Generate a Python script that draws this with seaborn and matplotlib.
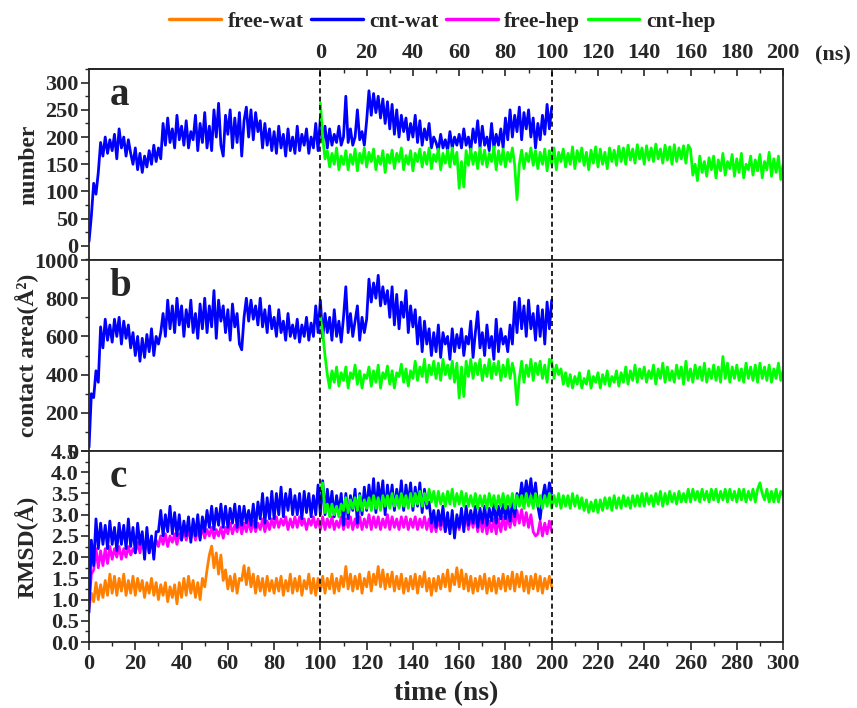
import numpy as np
import matplotlib
matplotlib.use("Agg")
import matplotlib.pyplot as plt
from matplotlib.ticker import MultipleLocator, FixedLocator
from matplotlib.lines import Line2D
import seaborn as sns

# ---- sampling times (ns) ----
t_free = np.arange(0, 201)     # free / cnt-wat runs, 0-200 ns
t_hep = np.arange(100, 301)    # cnt-hep run, started at 100 ns

# ---- (a) number of contacts ----
number_cnt_wat = [
    8, 55, 115, 95, 135, 190, 165, 200, 170, 195,
    175, 205, 160, 215, 180, 200, 165, 195, 170, 150,
    180, 140, 170, 135, 165, 145, 175, 150, 185, 155,
    180, 160, 225, 185, 235, 190, 215, 180, 240, 195,
    220, 185, 230, 180, 210, 195, 240, 175, 225, 190,
    245, 180, 220, 175, 250, 200, 262, 185, 165, 240,
    205, 250, 180, 235, 190, 245, 165, 230, 255, 200,
    250, 195, 245, 210, 230, 180, 225, 185, 215, 175,
    210, 170, 220, 180, 205, 165, 215, 175, 200, 170,
    220, 175, 205, 185, 215, 170, 200, 180, 225, 175,
    235, 190, 220, 180, 215, 185, 205, 190, 220, 185,
    200, 275, 190, 215, 185, 200, 250, 195, 210, 185,
    230, 285, 240, 280, 245, 275, 235, 270, 225, 265,
    215, 260, 205, 250, 200, 240, 210, 235, 195, 225,
    200, 240, 190, 230, 185, 215, 195, 225, 180, 200,
    190, 175, 205, 180, 195, 175, 210, 180, 200, 185,
    205, 180, 215, 185, 200, 175, 215, 190, 230, 180,
    220, 185, 200, 175, 225, 180, 205, 185, 215, 180,
    235, 195, 250, 200, 240, 210, 255, 195, 245, 215,
    250, 200, 235, 180, 225, 195, 240, 205, 260, 215,
    255,
]
number_cnt_hep = [
    262, 200, 160, 175, 145, 170, 150, 180, 140, 165,
    150, 175, 140, 168, 150, 178, 138, 170, 152, 180,
    145, 172, 155, 178, 140, 165, 150, 175, 135, 168,
    152, 176, 142, 170, 155, 180, 140, 166, 150, 175,
    138, 170, 155, 178, 145, 172, 150, 180, 142, 168,
    155, 178, 140, 170, 152, 176, 145, 180, 150, 172,
    106, 155, 108, 175, 148, 178, 150, 172, 142, 180,
    150, 176, 145, 170, 155, 182, 140, 175, 150, 178,
    145, 172, 155, 180, 148, 85, 150, 176, 142, 170,
    155, 180, 148, 175, 142, 172, 150, 178, 138, 175,
    150, 180, 140, 172, 155, 178, 145, 170, 150, 182,
    142, 175, 155, 180, 148, 172, 140, 176, 152, 182,
    145, 178, 150, 172, 142, 180, 155, 176, 148, 183,
    155, 180, 150, 185, 158, 178, 152, 186, 160, 180,
    150, 184, 158, 180, 155, 187, 160, 178, 152, 185,
    158, 182, 150, 186, 155, 180, 160, 184, 152, 185,
    178, 130, 150, 120, 165, 135, 155, 128, 162, 140,
    165, 125, 158, 138, 170, 130, 155, 142, 168, 128,
    160, 135, 170, 125, 150, 140, 165, 130, 158, 138,
    168, 125, 155, 140, 172, 128, 160, 135, 165, 122,
    150,
]

# ---- (b) contact area (A^2) ----
area_cnt_wat = [
    20, 300, 280, 420, 360, 650, 540, 690, 580, 660,
    570, 690, 600, 700, 560, 680, 590, 660, 540, 620,
    500, 600, 470, 590, 490, 610, 520, 640, 500, 600,
    560, 620, 720, 600, 790, 640, 760, 620, 800, 660,
    760, 600, 740, 650, 790, 620, 720, 590, 770, 640,
    800, 620, 760, 650, 840, 590, 790, 680, 760, 620,
    740, 580, 770, 650, 720, 560, 530, 700, 800, 680,
    790, 690, 760, 660, 800, 650, 740, 620, 760, 640,
    700, 600, 740, 620, 680, 580, 720, 600, 660, 590,
    690, 570, 660, 600, 700, 580, 670, 600, 760, 620,
    790, 590, 720, 620, 700, 580, 740, 600, 680, 570,
    700, 860, 620, 720, 600, 680, 760, 580, 700, 620,
    690, 900, 780, 880, 800, 920, 760, 860, 770, 840,
    700, 860, 660, 820, 640, 780, 700, 840, 620, 760,
    650, 740, 560, 700, 520, 680, 560, 640, 500, 620,
    520, 660, 490, 620, 560, 600, 480, 640, 520, 610,
    540, 640, 500, 600, 560, 680, 490, 620, 730, 540,
    620, 500, 660, 540, 600, 480, 690, 520, 640, 560,
    600, 520, 660, 560, 780, 620, 800, 640, 760, 600,
    790, 640, 720, 580, 760, 600, 740, 560, 780, 640,
    790,
]
area_cnt_hep = [
    700, 620, 500, 400, 330, 420, 360, 440, 340, 410,
    370, 440, 330, 410, 380, 450, 350, 420, 330, 400,
    380, 440, 340, 420, 360, 450, 330, 410, 380, 445,
    350, 420, 330, 410, 390, 455, 360, 430, 340, 420,
    380, 470, 370, 440, 390, 480, 360, 450, 400, 470,
    380, 460, 370, 480, 400, 450, 380, 470, 360, 460,
    278, 440, 285, 470, 390, 480, 380, 460, 400, 480,
    370, 450, 390, 480, 380, 460, 400, 470, 370, 450,
    390, 480, 380, 460, 400, 243, 380, 470, 360, 450,
    390, 480, 370, 460, 400, 470, 380, 450, 360, 480,
    470, 380, 450, 400, 430, 350, 410, 340, 400, 330,
    390, 350, 410, 330, 380, 350, 420, 330, 390, 360,
    410, 330, 400, 350, 420, 340, 390, 360, 420, 340,
    410, 360, 440, 350, 420, 370, 450, 360, 430, 380,
    440, 360, 420, 380, 450, 350, 430, 380, 460, 360,
    440, 370, 420, 360, 450, 380, 440, 350, 470, 370,
    430, 360, 450, 380, 440, 370, 460, 360, 430, 380,
    450, 370, 440, 360, 495, 380, 460, 360, 440, 380,
    450, 370, 430, 360, 460, 380, 440, 370, 450, 360,
    460, 380, 440, 370, 450, 360, 430, 380, 460, 370,
    420,
]

# ---- (c) RMSD (A) ----
rmsd_free_wat = [
    0.8, 1.15, 0.95, 1.4, 1.0, 1.35, 1.05, 1.45, 1.1, 1.6,
    1.15, 1.55, 1.1, 1.5, 1.2, 1.6, 1.1, 1.45, 1.15, 1.55,
    1.1, 1.5, 1.2, 1.45, 1.05, 1.4, 1.15, 1.5, 1.1, 1.4,
    1.0, 1.35, 1.1, 1.4, 0.95, 1.3, 1.05, 1.35, 0.9, 1.4,
    1.05, 1.5, 1.1, 1.55, 1.15, 1.45, 1.05, 1.4, 1.0, 1.5,
    1.3, 1.7, 2.05, 2.26, 1.75, 2.1, 1.6, 2.05, 1.45, 1.7,
    1.25, 1.55, 1.2, 1.6, 1.15, 1.5, 1.45, 1.8, 1.35, 1.75,
    1.3, 1.6, 1.15, 1.55, 1.2, 1.5, 1.1, 1.55, 1.2, 1.45,
    1.15, 1.5, 1.2, 1.55, 1.1, 1.45, 1.2, 1.6, 1.15, 1.5,
    1.2, 1.55, 1.1, 1.45, 1.25, 1.6, 1.15, 1.5, 1.1, 1.5,
    1.2, 1.55, 1.15, 1.5, 1.25, 1.6, 1.15, 1.5, 1.2, 1.55,
    1.3, 1.78, 1.25, 1.6, 1.2, 1.55, 1.25, 1.6, 1.15, 1.5,
    1.3, 1.65, 1.2, 1.6, 1.35, 1.78, 1.3, 1.7, 1.25, 1.6,
    1.3, 1.65, 1.2, 1.55, 1.25, 1.6, 1.15, 1.5, 1.2, 1.55,
    1.25, 1.6, 1.15, 1.55, 1.3, 1.65, 1.2, 1.5, 1.1, 1.5,
    1.2, 1.55, 1.25, 1.6, 1.3, 1.7, 1.2, 1.6, 1.35, 1.75,
    1.3, 1.7, 1.25, 1.6, 1.2, 1.55, 1.15, 1.5, 1.2, 1.55,
    1.25, 1.6, 1.15, 1.5, 1.2, 1.55, 1.15, 1.5, 1.25, 1.6,
    1.2, 1.55, 1.25, 1.65, 1.2, 1.6, 1.3, 1.65, 1.2, 1.55,
    1.15, 1.55, 1.25, 1.6, 1.2, 1.55, 1.15, 1.5, 1.25, 1.55,
    1.3,
]
rmsd_cnt_wat = [
    0.7, 2.4, 1.8, 2.9, 2.2, 2.8, 2.3, 2.75, 2.2, 2.85,
    2.3, 2.7, 2.15, 2.8, 2.3, 2.75, 2.2, 2.9, 2.25, 2.7,
    2.1, 2.8, 2.3, 2.6, 1.95, 2.7, 2.1, 2.5, 1.95, 2.6,
    2.6, 3.1, 2.5, 3.0, 2.6, 3.2, 2.55, 3.05, 2.5, 3.0,
    2.4, 2.85, 2.5, 2.95, 2.35, 2.9, 2.5, 3.0, 2.4, 2.95,
    2.6, 3.1, 2.7, 3.2, 2.65, 3.15, 2.75, 3.25, 2.7, 3.2,
    2.7, 3.15, 2.8, 3.25, 2.7, 3.2, 2.75, 3.2, 2.8, 3.1,
    2.75, 3.25, 2.7, 3.3, 2.9, 3.5, 2.8, 3.4, 2.9, 3.55,
    2.9, 3.5, 3.0, 3.65, 2.95, 3.5, 3.1, 3.6, 3.0, 3.45,
    3.0, 3.5, 2.9, 3.55, 3.05, 3.5, 2.95, 3.45, 3.0, 3.7,
    3.0, 3.8, 3.0, 3.6, 3.1, 3.55, 2.95, 3.45, 3.05, 3.5,
    2.75, 3.5, 2.9, 3.45, 3.1, 3.6, 2.8, 3.5, 3.0, 3.65,
    3.1, 3.7, 3.2, 3.85, 3.05, 3.75, 3.3, 3.8, 3.0, 3.7,
    3.2, 3.7, 3.1, 3.6, 3.2, 3.8, 3.1, 3.7, 3.25, 3.75,
    3.1, 3.65, 3.2, 3.75, 3.05, 3.6, 3.15, 3.3, 2.8, 3.1,
    2.7, 3.1, 2.75, 3.2, 2.6, 3.05, 2.55, 3.1, 2.45, 3.0,
    2.7, 3.15, 2.6, 3.2, 2.75, 3.1, 2.8, 3.2, 2.7, 3.15,
    2.8, 3.2, 2.75, 3.15, 2.85, 3.25, 2.8, 3.2, 2.9, 3.25,
    2.9, 3.2, 2.85, 3.3, 2.95, 3.5, 3.3, 3.75, 3.35, 3.8,
    3.4, 3.85, 3.3, 3.75, 3.2, 2.9, 3.4, 3.7, 3.3, 3.75,
    3.5,
]
rmsd_free_hep = [
    0.9, 1.6, 1.7, 2.2, 1.75, 2.15, 1.8, 2.2, 1.85, 2.25,
    1.95, 2.2, 2.0, 2.25, 1.95, 2.2, 2.0, 2.25, 2.05, 2.2,
    2.1, 2.35, 2.1, 2.4, 2.15, 2.35, 2.1, 2.4, 2.2, 2.4,
    2.25, 2.5, 2.3, 2.55, 2.25, 2.5, 2.35, 2.55, 2.3, 2.55,
    2.4, 2.65, 2.4, 2.6, 2.45, 2.7, 2.4, 2.65, 2.45, 2.7,
    2.45, 2.65, 2.5, 2.7, 2.45, 2.65, 2.5, 2.7, 2.45, 2.7,
    2.55, 2.8, 2.55, 2.75, 2.6, 2.85, 2.55, 2.8, 2.6, 2.85,
    2.6, 2.85, 2.6, 2.8, 2.65, 2.9, 2.6, 2.85, 2.65, 2.9,
    2.7, 2.95, 2.7, 2.9, 2.75, 2.95, 2.65, 2.9, 2.7, 2.95,
    2.7, 2.95, 2.75, 2.9, 2.65, 2.9, 2.75, 2.95, 2.7, 2.9,
    2.65, 2.95, 2.65, 2.9, 2.7, 2.95, 2.65, 2.85, 2.7, 2.95,
    2.65, 2.9, 2.7, 2.95, 2.65, 2.9, 2.7, 2.95, 2.65, 2.9,
    2.7, 3.0, 2.65, 2.95, 2.7, 2.95, 2.65, 2.9, 2.7, 3.0,
    2.65, 2.95, 2.7, 2.9, 2.65, 2.95, 2.7, 2.95, 2.65, 2.9,
    2.7, 2.95, 2.65, 2.9, 2.7, 2.95, 2.65, 2.9, 2.6, 2.85,
    2.6, 2.9, 2.65, 2.95, 2.6, 2.85, 2.65, 2.9, 2.6, 2.85,
    2.65, 2.95, 2.7, 3.0, 2.65, 2.95, 2.7, 3.0, 2.6, 2.9,
    2.6, 2.9, 2.55, 2.85, 2.6, 2.9, 2.55, 2.9, 2.6, 2.95,
    2.65, 2.95, 2.7, 3.0, 2.75, 3.1, 2.8, 3.12, 2.75, 3.05,
    2.7, 3.0, 2.6, 2.5, 2.55, 2.85, 2.5, 2.8, 2.55, 2.85,
    2.6,
]
rmsd_cnt_hep = [
    3.6, 3.75, 3.05, 3.25, 2.95, 3.25, 3.0, 3.2, 2.95, 3.25,
    3.1, 3.4, 3.05, 3.35, 3.15, 3.4, 3.1, 3.45, 3.1, 3.35,
    3.15, 3.4, 3.1, 3.45, 3.15, 3.4, 3.1, 3.45, 3.2, 3.45,
    3.15, 3.5, 3.2, 3.45, 3.15, 3.5, 3.2, 3.45, 3.15, 3.5,
    3.2, 3.5, 3.25, 3.55, 3.2, 3.5, 3.25, 3.6, 3.3, 3.55,
    3.2, 3.55, 3.25, 3.5, 3.2, 3.55, 3.25, 3.6, 3.2, 3.5,
    3.25, 3.55, 3.2, 3.5, 3.2, 3.45, 3.2, 3.5, 3.15, 3.45,
    3.2, 3.45, 3.15, 3.5, 3.2, 3.45, 3.15, 3.45, 3.2, 3.5,
    3.15, 3.45, 3.2, 3.5, 3.15, 3.45, 3.2, 3.45, 3.15, 3.5,
    3.2, 3.45, 3.15, 3.5, 3.2, 3.45, 3.15, 3.45, 3.2, 3.5,
    3.15, 3.45, 3.2, 3.5, 3.15, 3.45, 3.2, 3.45, 3.15, 3.5,
    3.2, 3.45, 3.15, 3.4, 3.1, 3.35, 3.05, 3.3, 3.08, 3.35,
    3.05, 3.35, 3.1, 3.4, 3.15, 3.4, 3.1, 3.45, 3.15, 3.4,
    3.15, 3.45, 3.2, 3.4, 3.15, 3.45, 3.2, 3.45, 3.2, 3.5,
    3.2, 3.5, 3.25, 3.45, 3.2, 3.5, 3.25, 3.55, 3.2, 3.5,
    3.25, 3.55, 3.3, 3.5, 3.25, 3.55, 3.3, 3.5, 3.3, 3.6,
    3.3, 3.6, 3.35, 3.55, 3.3, 3.6, 3.35, 3.55, 3.3, 3.6,
    3.35, 3.6, 3.3, 3.55, 3.35, 3.6, 3.3, 3.6, 3.35, 3.55,
    3.3, 3.6, 3.35, 3.6, 3.3, 3.55, 3.35, 3.6, 3.3, 3.6,
    3.75, 3.5, 3.35, 3.6, 3.3, 3.55, 3.3, 3.6, 3.3, 3.55,
    3.45,
]

series_labels = ["free-wat", "cnt-wat", "free-hep", "cnt-hep"]
series_colors = {"free-wat": "#FF8000", "cnt-wat": "#0000FF",
                 "free-hep": "#FF00FF", "cnt-hep": "#00FF00"}

sns.set_style("ticks")
plt.rcParams["font.family"] = ["Liberation Serif", "DejaVu Serif"]
plt.rcParams["font.weight"] = "bold"
plt.rcParams["axes.labelweight"] = "bold"
plt.rcParams["axes.linewidth"] = 1.3

fig, axes = plt.subplots(3, 1, figsize=(8.57, 7.08), dpi=100, sharex=True)
fig.subplots_adjust(left=0.1039, right=0.9137, top=0.9025, bottom=0.0932, hspace=0)


def trace(ax, t, v, key):
    sns.lineplot(x=t, y=v, color=series_colors[key], lw=2.0, ax=ax,
                 estimator=None, sort=False, legend=False)


ax_a, ax_b, ax_c = axes
trace(ax_a, t_free, number_cnt_wat, "cnt-wat")
trace(ax_a, t_hep, number_cnt_hep, "cnt-hep")

trace(ax_b, t_free, area_cnt_wat, "cnt-wat")
trace(ax_b, t_hep, area_cnt_hep, "cnt-hep")

trace(ax_c, t_free, rmsd_free_wat, "free-wat")
trace(ax_c, t_free, rmsd_free_hep, "free-hep")
trace(ax_c, t_free, rmsd_cnt_wat, "cnt-wat")
trace(ax_c, t_hep, rmsd_cnt_hep, "cnt-hep")

ylims = [(-26, 325), (0, 1000), (0, 4.5)]
ymaj = [50, 200, 0.5]
ymin = [25, 100, 0.25]
ylabels = ["number", "contact area(Å²)", "RMSD(Å)"]
letters = ["a", "b", "c"]
yfmt = [None, None, "{x:.1f}"]

for ax, yl, mj, mn, lab, let, fmt in zip(axes, ylims, ymaj, ymin, ylabels, letters, yfmt):
    ax.set_xlim(0, 300)
    ax.set_ylim(*yl)
    ax.xaxis.set_major_locator(MultipleLocator(20))
    ax.xaxis.set_minor_locator(MultipleLocator(10))
    ax.yaxis.set_major_locator(MultipleLocator(mj))
    ax.yaxis.set_minor_locator(MultipleLocator(mn))
    if fmt:
        ax.yaxis.set_major_formatter(fmt)
    ax.tick_params(axis="y", which="major", direction="out", length=5.5, width=1.2,
                   labelsize=16, pad=2)
    ax.tick_params(axis="y", which="minor", direction="out", length=3, width=1.0)
    ax.set_ylabel(lab, fontsize=17, fontweight="bold")
    ax.yaxis.set_label_coords(-0.072, 0.5)
    ax.set_xlabel("")
    for s in ax.spines.values():
        s.set_visible(True)
        s.set_linewidth(1.3)
    ax.axvline(100, color="black", lw=1.2, ls=(0, (3, 2)), zorder=5)
    ax.axvline(200, color="black", lw=1.2, ls=(0, (3, 2)), zorder=5)
    ax.text(0.03, 0.86, let, transform=ax.transAxes, fontsize=28,
            fontweight="bold", va="center", ha="left")

for ax in (ax_a, ax_b):
    ax.tick_params(axis="x", which="both", bottom=False, labelbottom=False)

ax_c.tick_params(axis="x", which="major", direction="out", length=5.5, width=1.2,
                 labelsize=16, pad=3)
ax_c.tick_params(axis="x", which="minor", direction="out", length=3, width=1.0)
ax_c.set_xlabel("time (ns)", fontsize=20, fontweight="bold")
ax_c.xaxis.set_label_coords(0.515, -0.205)

# top axis: time of the heptane run, which starts at 100 ns
top = ax_a.secondary_xaxis("top", functions=(lambda x: x - 100, lambda x: x + 100))
top.xaxis.set_major_locator(FixedLocator(np.arange(0, 201, 20)))
top.xaxis.set_minor_locator(FixedLocator(np.arange(10, 200, 20)))
top.tick_params(axis="x", which="major", direction="in", length=5, width=1.2,
                labelsize=16, pad=4)
top.tick_params(axis="x", which="minor", direction="in", length=3, width=1.0)
fig.text(0.972, 0.922, "(ns)", fontsize=16, fontweight="bold", ha="center", va="center")

handles = [Line2D([0], [0], color=series_colors[k], lw=2.5) for k in series_labels]
fig.legend(handles, series_labels, loc="center", bbox_to_anchor=(0.516, 0.969),
           ncol=4, frameon=False, handlelength=2.4,
           handletextpad=0.3, columnspacing=0.35, prop={"weight": "bold", "size": 15.5})

fig.savefig("out.png", dpi=100)
